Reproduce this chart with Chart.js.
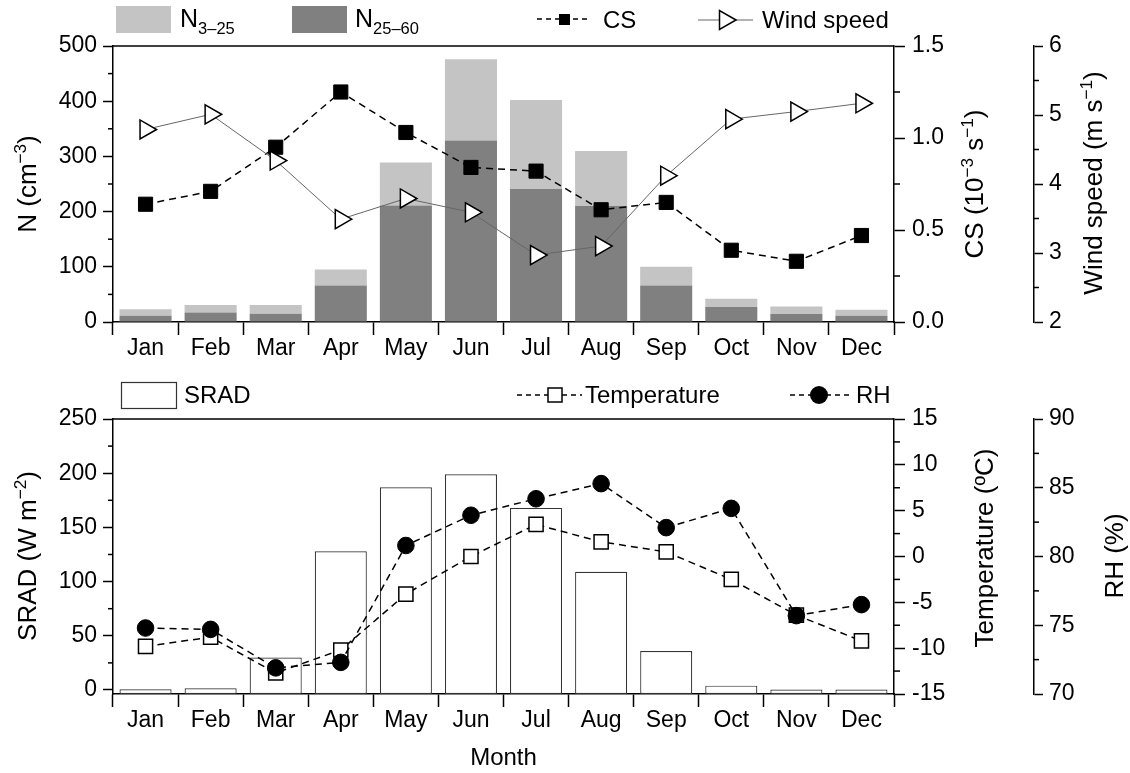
<!DOCTYPE html>
<html>
<head>
<meta charset="utf-8">
<script src="https://cdn.jsdelivr.net/npm/chart.js@4.4.1/dist/chart.umd.min.js"></script>
<style>
  html, body { margin: 0; padding: 0; background: #fff; }
  #fig { position: relative; width: 1130px; height: 773px; }
  canvas { position: absolute; left: 0; }
  #top { top: 0; }
  #bottom { top: 370px; }
</style>
</head>
<body>
<div id="fig">
  <canvas id="top" width="1130" height="370"></canvas>
  <canvas id="bottom" width="1130" height="403"></canvas>
</div>
<script>
const FONT = '"Liberation Sans", Arial, sans-serif';

const months = ['Jan', 'Feb', 'Mar', 'Apr', 'May', 'Jun', 'Jul', 'Aug', 'Sep', 'Oct', 'Nov', 'Dec'];

// upper panel: particle number (stacked), condensation sink, wind speed
const n25to60 = [11.5, 17, 15, 66, 211, 329, 241, 210, 66, 27, 14.5, 11.5];
const n3to25 = [11.5, 14, 16, 29, 78, 147, 161, 100, 34, 15, 13.5, 10.5];
const cs = [0.64, 0.71, 0.95, 1.25, 1.03, 0.84, 0.82, 0.61, 0.65, 0.39, 0.33, 0.47];
const wind = [4.79, 5.01, 4.34, 3.49, 3.79, 3.59, 2.97, 3.10, 4.12, 4.94, 5.05, 5.17];

// lower panel: solar radiation, temperature, relative humidity
const srad = [0.6, 1.5, 30, 128, 187, 199, 168, 109, 36, 4, 0.4, 0.5];
const temperature = [-9.8, -8.8, -12.7, -10.2, -4.1, 0.0, 3.5, 1.6, 0.5, -2.5, -6.4, -9.2];
const rh = [74.8, 74.7, 71.9, 72.3, 80.8, 83.0, 84.2, 85.3, 82.1, 83.5, 75.7, 76.5];

// axis ticks: labelled majors and unlabelled minors
const nTicks = [0, 100, 200, 300, 400, 500];
const nMinor = [50, 150, 250, 350, 450];
const csTicks = [0, 0.5, 1.0, 1.5];
const csMinor = [0.25, 0.75, 1.25];
const windTicks = [2, 3, 4, 5, 6];
const windMinor = [2.5, 3.5, 4.5, 5.5];
const sradTicks = [0, 50, 100, 150, 200, 250];
const sradMinor = [25, 75, 125, 175, 225];
const tempTicks = [-15, -10, -5, 0, 5, 10, 15];
const tempMinor = [-12.5, -7.5, -2.5, 2.5, 7.5, 12.5];
const rhTicks = [70, 75, 80, 85, 90];
const rhMinor = [72.5, 77.5, 82.5, 87.5];

// ---- little drawing helpers ----
function drawRich(ctx, parts, x, y, size, align) {
  let w = 0;
  parts.forEach(([t, k]) => {
    ctx.font = (k ? size * 0.66 : size) + 'px ' + FONT;
    w += ctx.measureText(t).width;
  });
  let cx = align === 'center' ? x - w / 2 : x;
  parts.forEach(([t, k]) => {
    ctx.font = (k ? size * 0.66 : size) + 'px ' + FONT;
    const dy = k === 'sup' ? -size * 0.4 : (k === 'sub' ? size * 0.28 : 0);
    ctx.fillText(t, cx, y + dy);
    cx += ctx.measureText(t).width;
  });
}

// vertical axis title, read bottom to top; x is the baseline, y the middle
function drawTitle(ctx, parts, x, y, size) {
  ctx.save();
  ctx.translate(x, y);
  ctx.rotate(-Math.PI / 2);
  ctx.fillStyle = '#000';
  ctx.textAlign = 'left';
  ctx.textBaseline = 'alphabetic';
  drawRich(ctx, parts, 0, 0, size, 'center');
  ctx.restore();
}

function seg(ctx, x1, x2, y, dash, lw, color) {
  ctx.save();
  ctx.strokeStyle = color;
  ctx.lineWidth = lw;
  ctx.setLineDash(dash);
  ctx.beginPath();
  ctx.moveTo(x1, y);
  ctx.lineTo(x2, y);
  ctx.stroke();
  ctx.restore();
}

function label(ctx, text, x, y) {
  ctx.fillStyle = '#000';
  ctx.textAlign = 'left';
  ctx.textBaseline = 'alphabetic';
  ctx.font = '24px ' + FONT;
  ctx.fillText(text, x, y);
}

// ---- axes ----
function yAxis(o) {
  return {
    type: 'linear',
    position: o.pos,
    min: o.min,
    max: o.max,
    weight: o.weight || 0,
    stacked: !!o.stacked,
    grid: { drawOnChartArea: false, drawTicks: true, tickLength: o.len, color: '#000', tickWidth: 1.5 },
    border: { display: true, color: '#000', width: 1.5 },
    ticks: {
      color: '#000',
      font: { family: FONT, size: 23 },
      padding: o.pad,
      autoSkip: false,
      callback: o.fmt || (v => String(v))
    },
    afterBuildTicks: s => { s.ticks = o.ticks.map(v => ({ value: v })); },
    afterFit: s => { s.width = o.width; }
  };
}

function xAxis(h, title) {
  return {
    type: 'category',
    offset: true,
    stacked: true,
    grid: { offset: true, drawOnChartArea: false, tickLength: 13, color: '#000', tickWidth: 1.5 },
    border: { display: true, color: '#000', width: 1.5 },
    ticks: { color: '#000', font: { family: FONT, size: 23 }, padding: 0, maxRotation: 0, autoSkip: false },
    title: title
      ? { display: true, text: title, color: '#000', font: { family: FONT, size: 24 }, padding: { top: 0, bottom: 0 } }
      : { display: false },
    afterFit: s => { s.height = h; }
  };
}

// minor ticks, the closing top line of the frame, legend and titles
function decorations(minor, drawExtra) {
  return {
    id: 'decorations',
    afterDraw(chart) {
      const ctx = chart.ctx;
      const area = chart.chartArea;
      ctx.save();
      ctx.strokeStyle = '#000';
      ctx.lineWidth = 1.5;
      Object.keys(minor).forEach(id => {
        const s = chart.scales[id];
        const m = minor[id];
        m.values.forEach(v => {
          const y = s.getPixelForValue(v);
          ctx.beginPath();
          if (s.position === 'left') {
            ctx.moveTo(s.right, y);
            ctx.lineTo(s.right - m.len, y);
          } else {
            ctx.moveTo(s.left, y);
            ctx.lineTo(s.left + m.len, y);
          }
          ctx.stroke();
        });
      });
      ctx.beginPath();
      ctx.moveTo(area.left, area.top);
      ctx.lineTo(area.right, area.top);
      ctx.stroke();
      ctx.restore();
      drawExtra(ctx);
    }
  };
}

const common = {
  responsive: false,
  animation: false,
  events: [],
  plugins: { legend: { display: false }, tooltip: { enabled: false } }
};

// ---- upper panel ----
new Chart(document.getElementById('top'), {
  data: {
    labels: months,
    datasets: [
      {
        type: 'line', label: 'Wind speed', data: wind, yAxisID: 'yWind', order: 0,
        borderColor: '#666', borderWidth: 1, tension: 0, fill: false,
        pointStyle: 'triangle', pointRotation: 90, pointRadius: 11,
        pointBackgroundColor: '#fff', pointBorderColor: '#000', pointBorderWidth: 1.5
      },
      {
        type: 'line', label: 'CS', data: cs, yAxisID: 'yCS', order: 1,
        borderColor: '#000', borderWidth: 1.5, borderDash: [7, 5], tension: 0, fill: false,
        pointStyle: 'rect', pointRadius: 10,
        pointBackgroundColor: '#000', pointBorderColor: '#000', pointBorderWidth: 1
      },
      {
        type: 'bar', label: 'N25–60', data: n25to60, yAxisID: 'yN', stack: 'N', order: 2,
        backgroundColor: '#808080', barPercentage: 0.8, categoryPercentage: 1
      },
      {
        type: 'bar', label: 'N3–25', data: n3to25, yAxisID: 'yN', stack: 'N', order: 2,
        backgroundColor: '#c4c4c4', barPercentage: 0.8, categoryPercentage: 1
      }
    ]
  },
  options: Object.assign({}, common, {
    layout: { padding: { top: 46, left: 0, right: 0, bottom: 0 }, autoPadding: false },
    scales: {
      x: xAxis(48),
      yN: yAxis({ pos: 'left', min: 0, max: 500, ticks: nTicks, len: 10, pad: 6, width: 113, stacked: true }),
      yCS: yAxis({ pos: 'right', min: 0, max: 1.5, ticks: csTicks, len: 11, pad: 7, width: 140, weight: 0, fmt: v => v.toFixed(1) }),
      yWind: yAxis({ pos: 'right', min: 2, max: 6, ticks: windTicks, len: 9, pad: 6, width: 96, weight: 1 })
    }
  }),
  plugins: [decorations(
    { yN: { values: nMinor, len: 5 }, yCS: { values: csMinor, len: 6 }, yWind: { values: windMinor, len: 5 } },
    ctx => {
      ctx.fillStyle = '#c4c4c4';
      ctx.fillRect(116, 6, 55, 27);
      ctx.fillStyle = '#808080';
      ctx.fillRect(292, 6, 55, 27);
      ctx.fillStyle = '#000';
      ctx.textAlign = 'left';
      ctx.textBaseline = 'alphabetic';
      drawRich(ctx, [['N'], ['3–25', 'sub']], 180, 27, 25);
      drawRich(ctx, [['N'], ['25–60', 'sub']], 355, 27, 25);

      seg(ctx, 537, 591, 19, [5, 4], 1.5, '#000');
      ctx.fillStyle = '#000';
      ctx.fillRect(559, 14, 11, 11);
      label(ctx, 'CS', 603, 28);

      seg(ctx, 698, 753, 20, [], 1, '#666');
      ctx.save();
      ctx.beginPath();
      ctx.moveTo(736, 20);
      ctx.lineTo(719.5, 10.5);
      ctx.lineTo(719.5, 29.5);
      ctx.closePath();
      ctx.fillStyle = '#fff';
      ctx.fill();
      ctx.lineWidth = 1.5;
      ctx.strokeStyle = '#000';
      ctx.stroke();
      ctx.restore();
      label(ctx, 'Wind speed', 762, 28);

      drawTitle(ctx, [['N (cm'], ['−3', 'sup'], [')']], 36, 184, 26);
      drawTitle(ctx, [['CS (10'], ['−3', 'sup'], [' s'], ['−1', 'sup'], [')']], 983, 184, 26);
      drawTitle(ctx, [['Wind speed (m s'], ['−1', 'sup'], [')']], 1102, 183, 26);
    }
  )]
});

// ---- lower panel ----
new Chart(document.getElementById('bottom'), {
  data: {
    labels: months,
    datasets: [
      {
        type: 'line', label: 'RH', data: rh, yAxisID: 'yRH', order: 0,
        borderColor: '#000', borderWidth: 1.5, borderDash: [7, 5], tension: 0, fill: false,
        pointStyle: 'circle', pointRadius: 8.3,
        pointBackgroundColor: '#000', pointBorderColor: '#000', pointBorderWidth: 1
      },
      {
        type: 'line', label: 'Temperature', data: temperature, yAxisID: 'yT', order: 1,
        borderColor: '#000', borderWidth: 1.5, borderDash: [7, 5], tension: 0, fill: false,
        pointStyle: 'rect', pointRadius: 10,
        pointBackgroundColor: '#fff', pointBorderColor: '#000', pointBorderWidth: 1.5
      },
      {
        type: 'bar', label: 'SRAD', data: srad, yAxisID: 'ySRAD', order: 2, base: -3.7,
        backgroundColor: '#fff', borderColor: '#333', borderWidth: 1.2, borderSkipped: false,
        barPercentage: 0.8, categoryPercentage: 1
      }
    ]
  },
  options: Object.assign({}, common, {
    layout: { padding: { top: 49, left: 0, right: 0, bottom: 0 }, autoPadding: false },
    scales: {
      x: xAxis(79, 'Month'),
      ySRAD: yAxis({ pos: 'left', min: -3.7, max: 250, ticks: sradTicks, len: 10, pad: 6, width: 113 }),
      yT: yAxis({ pos: 'right', min: -15, max: 15, ticks: tempTicks, len: 11, pad: 7, width: 140, weight: 0 }),
      yRH: yAxis({ pos: 'right', min: 70, max: 90, ticks: rhTicks, len: 9, pad: 6, width: 96, weight: 1 })
    }
  }),
  plugins: [decorations(
    { ySRAD: { values: sradMinor, len: 5 }, yT: { values: tempMinor, len: 6 }, yRH: { values: rhMinor, len: 5 } },
    ctx => {
      ctx.save();
      ctx.fillStyle = '#fff';
      ctx.fillRect(121, 12, 55, 26);
      ctx.strokeStyle = '#333';
      ctx.lineWidth = 1.2;
      ctx.strokeRect(121.5, 12.5, 55, 26);
      ctx.restore();
      label(ctx, 'SRAD', 184, 33);

      seg(ctx, 517, 582, 25, [5, 4], 1.5, '#000');
      ctx.save();
      ctx.fillStyle = '#fff';
      ctx.fillRect(548, 18, 14, 14);
      ctx.strokeStyle = '#000';
      ctx.lineWidth = 1.5;
      ctx.strokeRect(548, 18, 14, 14);
      ctx.restore();
      label(ctx, 'Temperature', 585, 33);

      seg(ctx, 790, 850, 25, [5, 4], 1.5, '#000');
      ctx.save();
      ctx.fillStyle = '#000';
      ctx.beginPath();
      ctx.arc(819, 25, 9, 0, Math.PI * 2);
      ctx.fill();
      ctx.restore();
      label(ctx, 'RH', 856, 33);

      drawTitle(ctx, [['SRAD (W m'], ['−2', 'sup'], [')']], 36, 186, 26);
      drawTitle(ctx, [['Temperature (ºC)']], 993, 178, 26);
      drawTitle(ctx, [['RH (%)']], 1123, 186, 26);
    }
  )]
});
</script>
</body>
</html>
